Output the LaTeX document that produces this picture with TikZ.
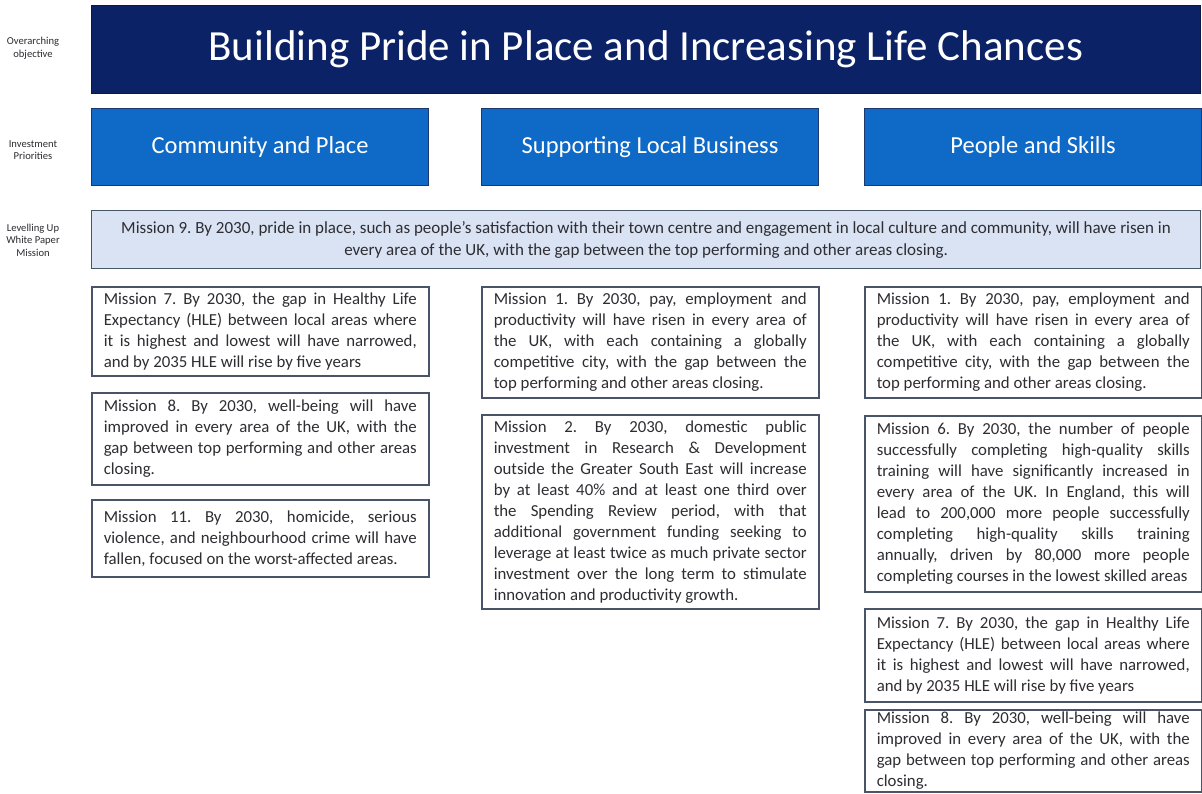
\documentclass[tikz,border=0pt]{standalone}
\usepackage{fontspec}
\setmainfont{Carlito}
\definecolor{navy}{RGB}{11,34,102}
\definecolor{prioblue}{RGB}{14,106,198}
\definecolor{prioedge}{RGB}{28,56,110}
\definecolor{paleblue}{RGB}{218,227,243}
\definecolor{boxedge}{RGB}{74,84,104}
\definecolor{bodytext}{RGB}{45,45,50}
\newcommand{\missionfont}{\fontsize{16.8}{21}\selectfont\frenchspacing\hyphenpenalty=10000 \exhyphenpenalty=10000\relax}
\tikzset{
  sidelabel/.style={font=\fontsize{10.6}{12.5}\selectfont, text=bodytext, align=center},
  priority/.style={anchor=north west, fill=prioblue, draw=prioedge, line width=1.2pt,
    text=white, font=\fontsize{24.5}{28}\selectfont, minimum width=337pt, minimum height=77pt},
  mission/.style={anchor=north west, draw=boxedge, line width=1.5pt, fill=white, text=bodytext,
    text width=313pt, inner xsep=12pt, inner ysep=2pt, align=justify, font=\missionfont},
}
\begin{document}
\begin{tikzpicture}[x=1pt,y=-1pt]
  \useasboundingbox[fill=white] (0,0) rectangle (1202,793);

  \node[sidelabel] (lblobj) at (33,48) {Overarching\\objective};
  \node[sidelabel] (lblprio) at (33,150) {Investment\\Priorities};
  \node[sidelabel] (lblmis) at (33,240) {Levelling Up\\White Paper\\Mission};

  \node[anchor=north west, fill=navy, draw=navy!70!black, minimum width=1109pt, minimum height=88pt,
    text=white, font=\fontsize{43}{48}\selectfont] (title) at (91,5)
    {Building Pride in Place and Increasing Life Chances};

  \node[priority] (prioCP) at (91,108) {Community and Place};
  \node[priority] (prioLB) at (481,108) {Supporting Local Business};
  \node[priority] (prioPS) at (864,108) {People and Skills};

  \node[anchor=north west, fill=paleblue, draw=boxedge, line width=1.2pt, minimum width=1109pt,
    minimum height=58pt, text=bodytext, align=center, font=\fontsize{17}{22}\selectfont\frenchspacing] (mission9) at (91,210)
    {Mission 9. By 2030, pride in place, such as people’s satisfaction with their town centre and engagement in local culture and community, will have risen in\\
     every area of the UK, with the gap between the top performing and other areas closing.};

  \node[mission, minimum height=89pt] (cpM7) at (91,286)
    {Mission 7. By 2030, the gap in Healthy Life\linebreak Expectancy (HLE) between local areas where\linebreak it is highest and lowest will have narrowed,\linebreak and by 2035 HLE will rise by five years};
  \node[mission, minimum height=92pt] (cpM8) at (91,392)
    {Mission 8. By 2030, well-being will have\linebreak improved in every area of the UK, with the\linebreak gap between top performing and other areas\linebreak closing.};
  \node[mission, minimum height=77pt] (cpM11) at (91,499)
    {Mission 11. By 2030, homicide, serious\linebreak violence, and neighbourhood crime will have\linebreak fallen, focused on the worst-affected areas.};

  \node[mission, minimum height=111pt] (lbM1) at (481,286)
    {Mission 1. By 2030, pay, employment and\linebreak productivity will have risen in every area of\linebreak the UK, with each containing a globally\linebreak competitive city, with the gap between the\linebreak top performing and other areas closing.};
  \node[mission, minimum height=194pt] (lbM2) at (481,414)
    {Mission 2. By 2030, domestic public\linebreak investment in Research \& Development\linebreak outside the Greater South East will increase\linebreak by at least 40\% and at least one third over\linebreak the Spending Review period, with that\linebreak additional government funding seeking to\linebreak leverage at least twice as much private sector\linebreak investment over the long term to stimulate\linebreak innovation and productivity growth.};

  \node[mission, minimum height=111pt] (psM1) at (864,286)
    {Mission 1. By 2030, pay, employment and\linebreak productivity will have risen in every area of\linebreak the UK, with each containing a globally\linebreak competitive city, with the gap between the\linebreak top performing and other areas closing.};
  \node[mission, minimum height=176pt] (psM6) at (864,415)
    {Mission 6. By 2030, the number of people\linebreak successfully completing high-quality skills\linebreak training will have significantly increased in\linebreak every area of the UK. In England, this will\linebreak lead to 200,000 more people successfully\linebreak completing high-quality skills training\linebreak annually, driven by 80,000 more people\linebreak completing courses in the lowest skilled areas};
  \node[mission, minimum height=93pt] (psM7) at (864,608)
    {Mission 7. By 2030, the gap in Healthy Life\linebreak Expectancy (HLE) between local areas where\linebreak it is highest and lowest will have narrowed,\linebreak and by 2035 HLE will rise by five years};
  \node[mission, minimum height=82pt] (psM8) at (864,709)
    {Mission 8. By 2030, well-being will have\linebreak improved in every area of the UK, with the\linebreak gap between top performing and other areas\linebreak closing.};
\end{tikzpicture}
\end{document}
